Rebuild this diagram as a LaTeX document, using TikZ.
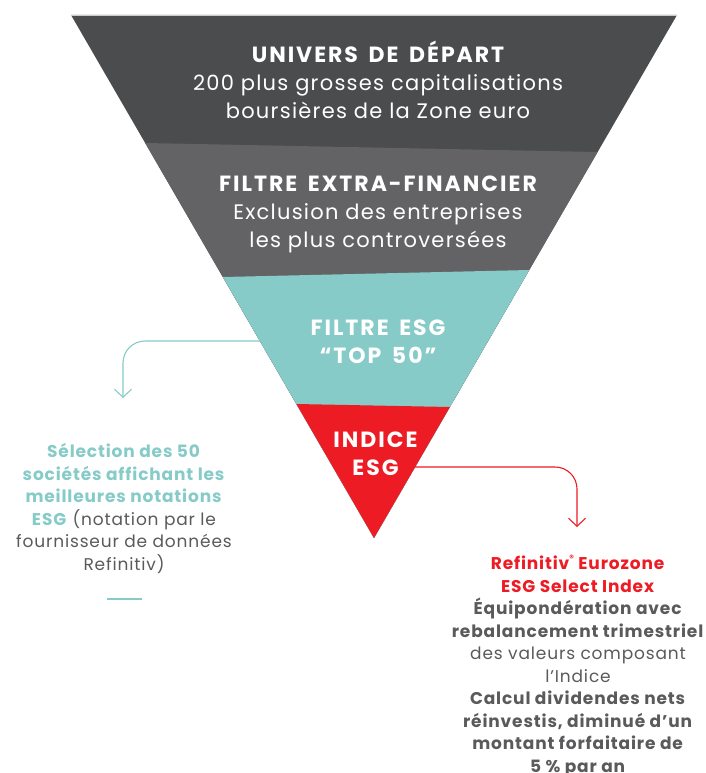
\documentclass[tikz,border=0pt]{standalone}
\usepackage{fontspec}
\setmainfont{Poppins}
\newfontfamily\capsfam{Poppins}[LetterSpace=9,WordSpace=1.6]
\usetikzlibrary{arrows.meta}
\definecolor{cdark}{HTML}{4B4C4E}
\definecolor{cgrey}{HTML}{636365}
\definecolor{cteal}{HTML}{86CBC8}
\definecolor{cred}{HTML}{ED1C24}
\definecolor{ctext}{HTML}{5A5A5C}
\newcommand{\capsfont}{\capsfam\fontsize{22}{28}\selectfont\bfseries}
\newcommand{\bandfont}{\fontsize{21}{28}\selectfont\addfontfeature{LetterSpace=6}}
\newcommand{\sidefont}{\fontsize{17}{22.5}\selectfont\addfontfeature{LetterSpace=5}}
\tikzset{
  bandtext/.style={text=white, align=center, inner sep=0pt},
  sidetext/.style={text=ctext, align=center, inner sep=0pt},
  conn/.style={line width=1.1pt, rounded corners=22pt, -{Straight Barb[length=8pt,width=17pt,line width=1.1pt]}},
}
\begin{document}
\begin{tikzpicture}[x=1pt,y=-1pt]
\useasboundingbox (0,0) rectangle (706,773);
% funnel bands
\fill[cdark] (71,15) -- (677,15) -- (374,538) -- cycle;
\fill[cgrey] (145.2,143) -- (597.6,152) -- (374,538) -- cycle;
\fill[cteal] (222.8,277) -- (529.3,270) -- (374,538) -- cycle;
\fill[cred] (296.4,404) -- (449.9,407) -- (374,538) -- cycle;
\draw[line width=0.8pt, color=black!20] (71,15) -- (677,15);
% band texts
\node[bandtext, font=\bandfont] (b1) at (378,80)
  {{\capsfont UNIVERS DE DÉPART}\\200 plus grosses capitalisations\\boursières de la Zone euro};
\node[bandtext, font=\bandfont] (b2) at (378,214)
  {{\capsfont FILTRE EXTRA-FINANCIER}\\Exclusion des entreprises\\les plus controversées};
\node[bandtext, font=\capsfont] (b3) at (378,342)
  {FILTRE ESG\\“TOP 50”};
\node[bandtext, font=\capsfont, text depth=0pt] (b4) at (375.5,453.5)
  {INDICE\\ESG};
% side texts
\node[sidetext, font=\sidefont] (left) at (124,508.5)
  {\textcolor{cteal}{\textbf{Sélection des 50}}\\\textcolor{cteal}{\textbf{sociétés affichant les}}\\\textcolor{cteal}{\textbf{meilleures notations}}\\\textcolor{cteal}{\textbf{ESG}} (notation par le\\fournisseur de données\\Refinitiv)};
\node[sidetext, font=\sidefont] (right) at (578,666)
  {\textcolor{cred}{\textbf{Refinitiv\raisebox{0.45em}{\fontsize{9}{9}\selectfont ®} Eurozone}}\\\textcolor{cred}{\textbf{ESG Select Index}}\\\textbf{Équipondération avec}\\\textbf{rebalancement trimestriel}\\des valeurs composant\\l’Indice\\\textbf{Calcul dividendes nets}\\\textbf{réinvestis, diminué d’un}\\\textbf{montant forfaitaire de}\\\textbf{5 \% par an}};
% connectors
\coordinate (tstart) at (260,341);
\coordinate (tend) at (123,398);
\draw[conn, cteal] (tstart) -| (tend);
\coordinate (rstart) at (415,467);
\coordinate (rend) at (577,527);
\draw[conn, cred] (rstart) -| (rend);
% short teal rule under left text
\coordinate (ra) at (107,599);
\coordinate (rb) at (142,599);
\draw[cteal, line width=2pt] (ra) -- (rb);
\end{tikzpicture}
\end{document}
